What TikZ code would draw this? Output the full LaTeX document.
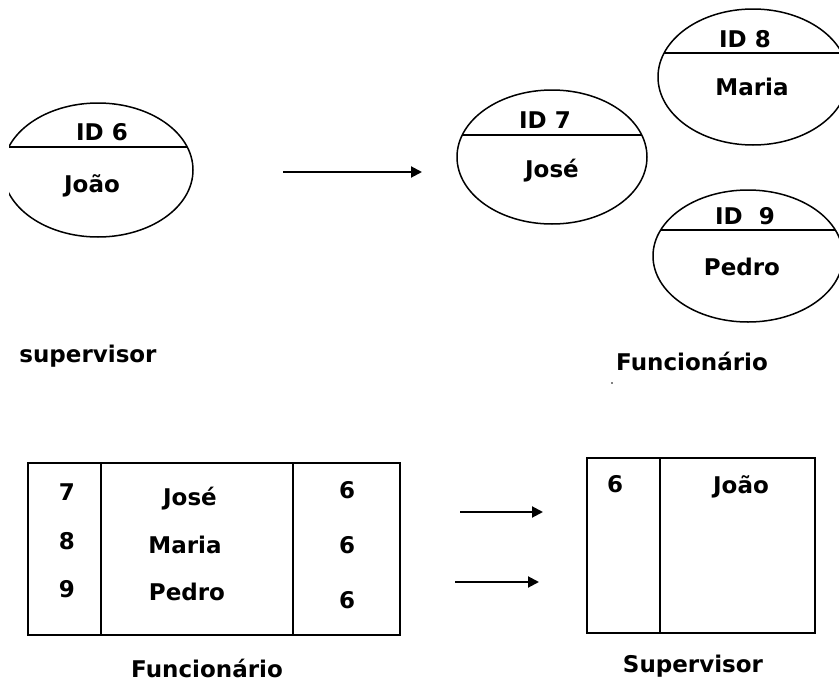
\documentclass[tikz,border=0pt]{standalone}
\usepackage{fontspec}
\setmainfont{DejaVu Sans}
\usetikzlibrary{arrows.meta}
\begin{document}
\begin{tikzpicture}[x=1pt,y=-1pt,
  lbl/.style={font=\fontsize{23}{26}\selectfont\bfseries, anchor=base, inner sep=0pt},
  ent/.style={line width=1.5pt},
  grid/.style={line width=2pt},
  link/.style={line width=2pt,-{Triangle[length=11pt,width=11pt]}}]
\useasboundingbox (0,0) rectangle (839,683);
\fill[white] (0,0) rectangle (839,683);
\clip (9,0) rectangle (839,683);

% entity occurrences: ellipse split by a chord into ID and name
% supervisor João
\draw[ent] (98,170) ellipse [x radius=95pt, y radius=67pt];
\begin{scope}
  \clip (98,170) ellipse [x radius=95pt, y radius=67pt];
  \draw[ent] (0,147) -- (200,147);
\end{scope}
\node[lbl] (id6) at (102,140) {ID 6};
\node[lbl] (joao) at (92,192) {João};

% employee José
\draw[ent] (552,157) ellipse [x radius=95pt, y radius=67pt];
\begin{scope}
  \clip (552,157) ellipse [x radius=95pt, y radius=67pt];
  \draw[ent] (450,135) -- (660,135);
\end{scope}
\node[lbl] (id7) at (545,128) {ID 7};
\node[lbl] (jose) at (552,177) {José};

% employee Maria
\draw[ent] (753,77) ellipse [x radius=95pt, y radius=68pt];
\begin{scope}
  \clip (753,77) ellipse [x radius=95pt, y radius=68pt];
  \draw[ent] (650,53) -- (860,53);
\end{scope}
\node[lbl] (id8) at (745,47) {ID 8};
\node[lbl] (maria) at (752,95) {Maria};

% employee Pedro
\draw[ent] (748,256) ellipse [x radius=95pt, y radius=66pt];
\begin{scope}
  \clip (748,256) ellipse [x radius=95pt, y radius=66pt];
  \draw[ent] (645,230) -- (860,230);
\end{scope}
\node[lbl] (id9) at (745,224) {ID\ \ 9};
\node[lbl] (pedro) at (742,275) {Pedro};

% relationship arrow
\coordinate (r1s) at (283,172);
\coordinate (r1e) at (422,172);
\draw[link] (r1s) -- (r1e);

% set captions
\node[lbl] (capsup) at (88,362) {supervisor};
\node[lbl] (capfun) at (692,370) {Funcionário};
\fill (612,383) circle (0.9pt);

% table Funcionário
\draw[grid] (28,463) rectangle (400,635);
\draw[grid] (101,463) -- (101,635);
\draw[grid] (293,463) -- (293,635);
\node[lbl] (f7) at (67,500) {7};
\node[lbl] (f8) at (67,549) {8};
\node[lbl] (f9) at (67,597) {9};
\node[lbl] (fjose) at (190,505) {José};
\node[lbl] (fmaria) at (185,553) {Maria};
\node[lbl] (fpedro) at (187,600) {Pedro};
\node[lbl] (fs1) at (347,498) {6};
\node[lbl] (fs2) at (347,553) {6};
\node[lbl] (fs3) at (347,608) {6};
\node[lbl] (tabfun) at (207,677) {Funcionário};

% foreign key arrows
\coordinate (k1s) at (460,512);
\coordinate (k1e) at (543,512);
\draw[link] (k1s) -- (k1e);
\coordinate (k2s) at (455,582);
\coordinate (k2e) at (539,582);
\draw[link] (k2s) -- (k2e);

% table Supervisor
\draw[grid] (587,458) rectangle (815,633);
\draw[grid] (660,458) -- (660,633);
\node[lbl] (s6) at (615,492) {6};
\node[lbl] (sjoao) at (741,493) {João};
\node[lbl] (tabsup) at (693,672) {Supervisor};
\end{tikzpicture}
\end{document}
